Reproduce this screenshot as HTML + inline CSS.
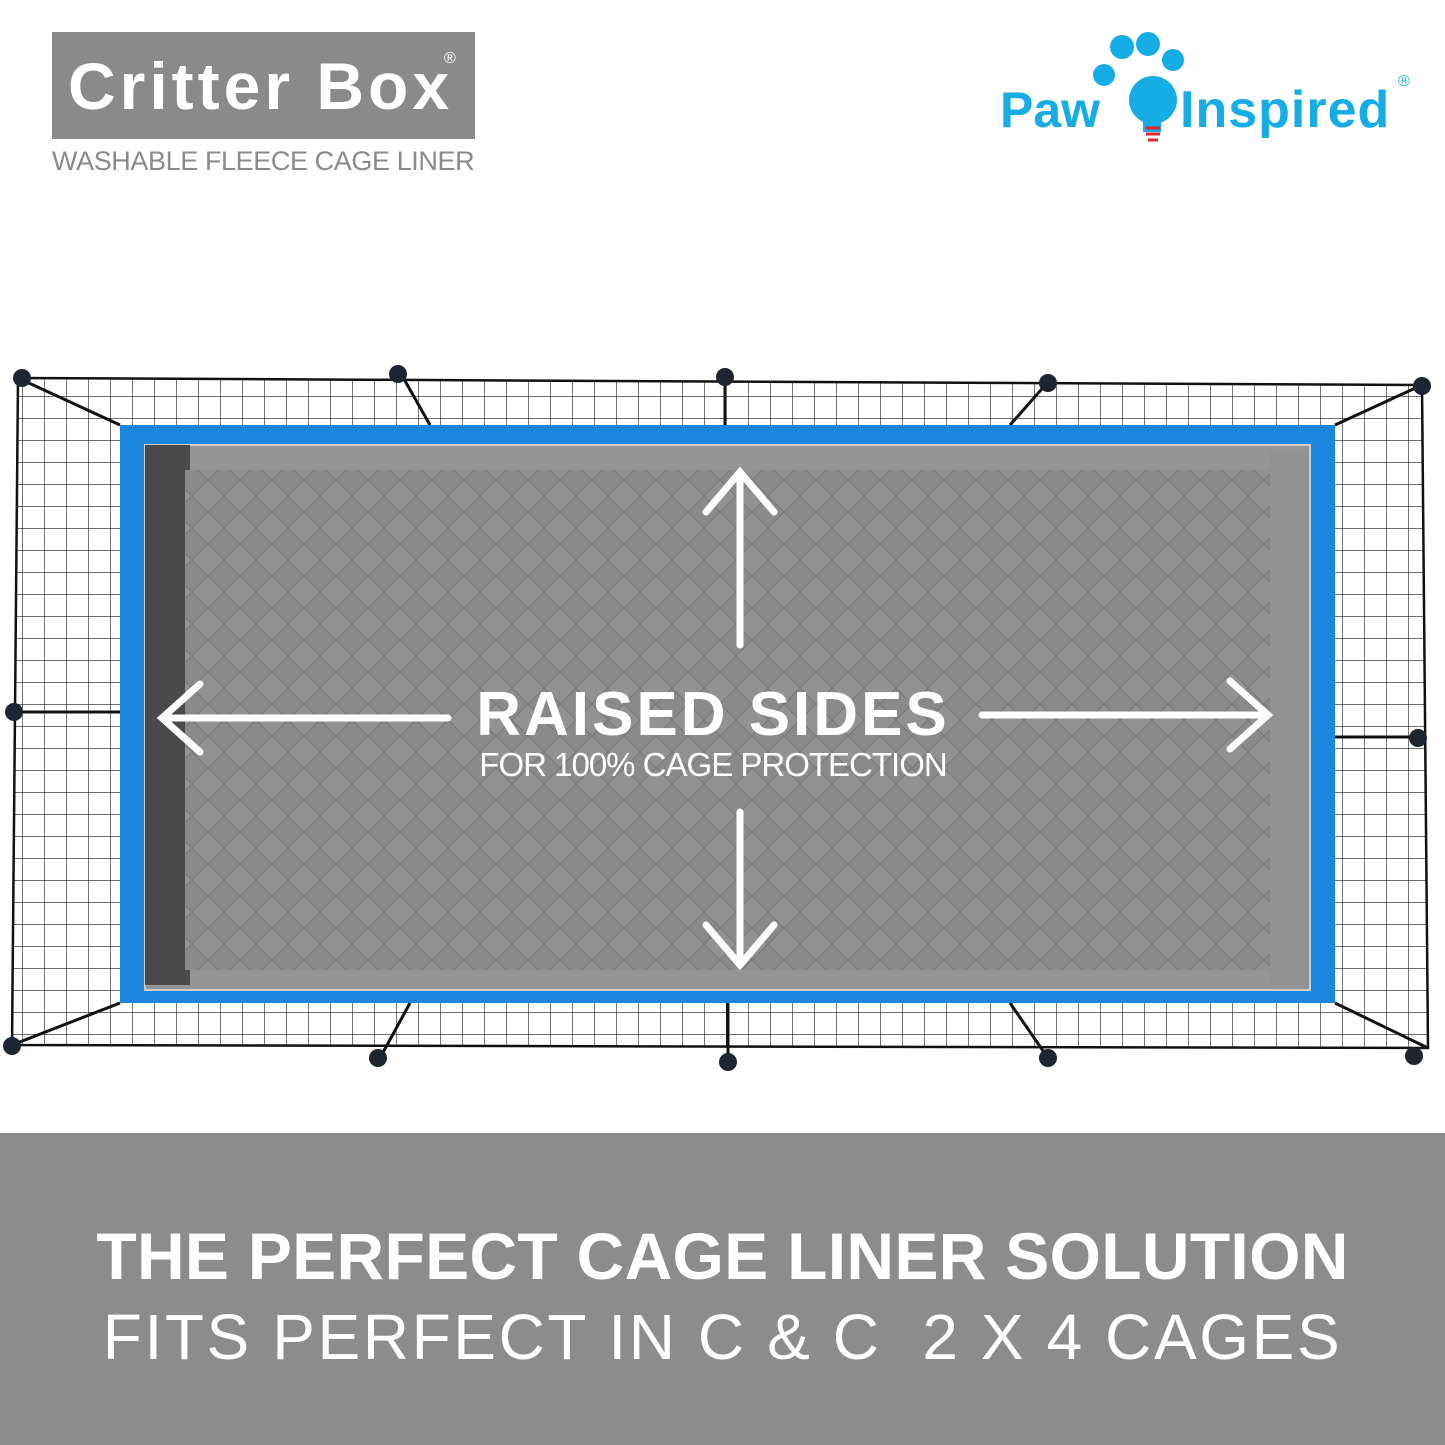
<!DOCTYPE html>
<html><head><meta charset="utf-8"><style>
html,body{margin:0;padding:0;background:#fff}
body{width:1445px;height:1445px;position:relative;overflow:hidden;font-family:"Liberation Sans",sans-serif}
.t{position:absolute;white-space:nowrap}
</style></head><body>
<div style="position:absolute;left:52px;top:32px;width:423px;height:107px;background:#8a8a8b"></div>
<div class="t" style="left:68px;top:48px;font-size:66px;font-weight:bold;color:#fff;letter-spacing:4px">Critter Box</div>
<div class="t" style="left:444px;top:50px;font-size:16px;color:#fff">®</div>
<div class="t" style="left:52px;top:146px;font-size:27px;color:#8a8a8b;letter-spacing:-0.4px">WASHABLE FLEECE CAGE LINER</div>

<svg style="position:absolute;left:0;top:0" width="1445" height="1445">
 <defs>
  <pattern id="g" width="22" height="22" patternUnits="userSpaceOnUse">
   <path d="M0 0H22M0 0V22" stroke="#1a1a1a" stroke-width="1.2" fill="none"/>
  </pattern>
  <pattern id="q" width="32" height="32" patternUnits="userSpaceOnUse">
   <rect width="32" height="32" fill="#8a8a8a"/>
   <path d="M0 16L16 0L32 16L16 32Z" fill="#929292" stroke="#777" stroke-width="1.2"/>
  </pattern>
 </defs>
 <g fill="#16ace6">
  <circle cx="1122" cy="47" r="12"/><circle cx="1148" cy="44" r="12"/><circle cx="1173" cy="60" r="11"/><circle cx="1104" cy="75" r="11"/>
  <circle cx="1153" cy="100" r="24"/>
  <rect x="1143" y="118" width="18" height="14"/>
 </g>
 <path d="M1146 128h14M1146 134h14M1148 140h10" stroke="#e2262b" stroke-width="3"/>
 <text x="1000" y="127" font-family="Liberation Sans" font-weight="bold" font-size="50" fill="#16ace6">Paw</text>
 <text x="1180" y="127" font-family="Liberation Sans" font-weight="bold" font-size="52" fill="#16ace6" letter-spacing="1">Inspired</text>
 <text x="1398" y="86" font-family="Liberation Sans" font-size="16" fill="#16ace6">®</text>

 <path fill-rule="evenodd" fill="url(#g)" d="M18 378L1422 385L1428 1048L12 1045Z M120 425L1335 425L1335 1003L120 1003Z"/>
 <path d="M18 378L1422 385L1428 1048L12 1045Z" fill="none" stroke="#111" stroke-width="2.5"/>
 <path d="M18 378L120 425M1422 385L1335 425M12 1045L120 1003M1428 1048L1335 1003M400 372L430 425M725 376L725 425M1048 382L1010 425M18 712L120 712M1418 737L1335 737M380 1058L410 1003M728 1062L728 1003M1048 1058L1010 1003" stroke="#111" stroke-width="3"/>
 <g fill="#1c2530">
  <circle cx="22" cy="378" r="9"/><circle cx="398" cy="374" r="9"/><circle cx="725" cy="377" r="9"/><circle cx="1048" cy="383" r="9"/><circle cx="1422" cy="386" r="9"/>
  <circle cx="14" cy="712" r="9"/><circle cx="1418" cy="738" r="9"/>
  <circle cx="12" cy="1046" r="9"/><circle cx="378" cy="1058" r="9"/><circle cx="728" cy="1062" r="9"/><circle cx="1048" cy="1058" r="9"/><circle cx="1414" cy="1056" r="9"/>
 </g>
 <rect x="120" y="425" width="1215" height="578" fill="#1c86dc"/>
 <rect x="145" y="445" width="1165" height="545" fill="#959595" stroke="#ccc" stroke-width="2"/>
 <rect x="145" y="445" width="45" height="540" fill="#4a4a4a"/>
 <rect x="185" y="470" width="1085" height="500" fill="url(#q)"/>
 <rect x="1270" y="450" width="38" height="535" fill="#929292"/>
 <g stroke="#fff" stroke-width="7" fill="none" stroke-linecap="round">
  <path d="M740 645V472M706 512L740 472L774 512"/>
  <path d="M740 812V965M706 925L740 965L774 925"/>
  <path d="M448 718H162M200 684L162 718L200 752"/>
  <path d="M982 715H1268M1230 681L1268 715L1230 749"/>
 </g>
 <text x="713" y="735" text-anchor="middle" font-family="Liberation Sans" font-weight="bold" font-size="62" fill="#fff" letter-spacing="3">RAISED SIDES</text>
 <text x="713" y="776" text-anchor="middle" font-family="Liberation Sans" font-size="33" fill="#fff" letter-spacing="-1">FOR 100% CAGE PROTECTION</text>
</svg>

<div style="position:absolute;left:0;top:1133px;width:1445px;height:312px;background:#8c8c8c"></div>
<div class="t" style="left:0;width:1445px;text-align:center;top:1218px;font-size:66px;font-weight:bold;color:#fff;letter-spacing:0.3px">THE PERFECT CAGE LINER SOLUTION</div>
<div class="t" style="left:0;width:1445px;text-align:center;top:1300px;font-size:64px;color:#fff;letter-spacing:2.6px">FITS PERFECT IN C &amp; C&nbsp; 2 X 4 CAGES</div>
</body></html>
